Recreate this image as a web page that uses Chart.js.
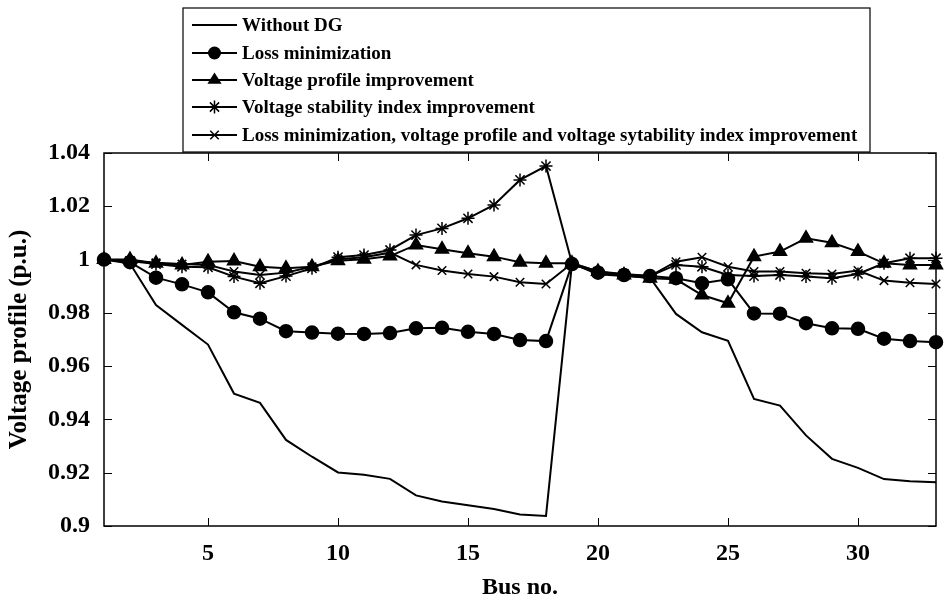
<!DOCTYPE html>
<html>
<head>
<meta charset="utf-8">
<script src="https://cdn.jsdelivr.net/npm/chart.js@4.4.1/dist/chart.umd.min.js"></script>
<style>
    html, body { margin: 0; padding: 0; background: #fff; }
    #wrap { width: 945px; height: 603px; }
</style>
</head>
<body>
<div id="wrap"><canvas id="voltage-chart" width="945" height="603"></canvas></div>
<script>
// --- Dados ---
const busNo = [1, 2, 3, 4, 5, 6, 7, 8, 9, 10, 11, 12, 13, 14, 15, 16, 17,
               18, 19, 20, 21, 22, 23, 24, 25, 26, 27, 28, 29, 30, 31, 32, 33];

const withoutDG = [1.0000, 0.9985, 0.9829, 0.9755, 0.9681, 0.9497, 0.9462, 0.9323, 0.9260, 0.9201, 0.9192,
                   0.9177, 0.9115, 0.9092, 0.9078, 0.9064, 0.9043, 0.9038, 0.9986, 0.9945, 0.9938, 0.9932,
                   0.9796, 0.9727, 0.9695, 0.9477, 0.9452, 0.9340, 0.9252, 0.9218, 0.9176, 0.9168, 0.9164];

const lossMin = [1.0000, 0.9990, 0.9932, 0.9907, 0.9877, 0.9802, 0.9778, 0.9731, 0.9726, 0.9722, 0.9721,
                 0.9724, 0.9742, 0.9744, 0.9729, 0.9721, 0.9698, 0.9694, 0.9983, 0.9951, 0.9942, 0.9938,
                 0.9930, 0.9911, 0.9926, 0.9798, 0.9797, 0.9761, 0.9742, 0.9740, 0.9703, 0.9694, 0.9690];

const voltProfile = [1.0000, 1.0000, 0.9986, 0.9980, 0.9992, 0.9995, 0.9973, 0.9967, 0.9973, 0.9996, 1.0001,
                     1.0013, 1.0055, 1.0039, 1.0024, 1.0011, 0.9990, 0.9986, 0.9986, 0.9955, 0.9942, 0.9930,
                     0.9926, 0.9867, 0.9836, 1.0011, 1.0030, 1.0080, 1.0063, 1.0030, 0.9986, 0.9980, 0.9980];

const vsiImprove = [1.0000, 0.9995, 0.9983, 0.9973, 0.9971, 0.9936, 0.9911, 0.9938, 0.9967, 1.0009, 1.0017,
                    1.0036, 1.0092, 1.0117, 1.0155, 1.0205, 1.0299, 1.0351, 0.9986, 0.9955, 0.9946, 0.9938,
                    0.9980, 0.9973, 0.9942, 0.9938, 0.9942, 0.9936, 0.9930, 0.9946, 0.9986, 1.0005, 1.0005];

const combined = [1.0000, 0.9995, 0.9988, 0.9983, 0.9980, 0.9955, 0.9942, 0.9951, 0.9973, 1.0001, 1.0009,
                  1.0026, 0.9980, 0.9959, 0.9946, 0.9936, 0.9915, 0.9908, 0.9986, 0.9948, 0.9942, 0.9938,
                  0.9992, 1.0009, 0.9973, 0.9955, 0.9955, 0.9949, 0.9946, 0.9959, 0.9921, 0.9913, 0.9908];

const seriesLabels = [
    'Without DG',
    'Loss minimization',
    'Voltage profile improvement',
    'Voltage stability index improvement',
    'Loss minimization, voltage profile and voltage sytability index improvement'
];
const xTickValues = [5, 10, 15, 20, 25, 30];
const yTickValues = [0.9, 0.92, 0.94, 0.96, 0.98, 1, 1.02, 1.04];

const FONT = "'Liberation Serif', 'Times New Roman', serif";

// --- Desenho de marcadores (legenda) ---
function drawMarker(ctx, style, x, y, r) {
    ctx.save();
    ctx.fillStyle = '#000';
    ctx.strokeStyle = '#000';
    ctx.lineWidth = 1.5;
    ctx.beginPath();
    if (style === 'circle') {
        ctx.arc(x, y, r, 0, Math.PI * 2);
        ctx.fill();
    } else if (style === 'triangle') {
        const h = r * 1.5;
        ctx.moveTo(x, y - r);
        ctx.lineTo(x + r * 0.95, y + h - r);
        ctx.lineTo(x - r * 0.95, y + h - r);
        ctx.closePath();
        ctx.fill();
    } else if (style === 'star') {
        const d = r * Math.SQRT1_2;
        ctx.moveTo(x - r, y); ctx.lineTo(x + r, y);
        ctx.moveTo(x, y - r); ctx.lineTo(x, y + r);
        ctx.moveTo(x - d, y - d); ctx.lineTo(x + d, y + d);
        ctx.moveTo(x - d, y + d); ctx.lineTo(x + d, y - d);
        ctx.stroke();
    } else if (style === 'crossRot') {
        const d = r * Math.SQRT1_2;
        ctx.moveTo(x - d, y - d); ctx.lineTo(x + d, y + d);
        ctx.moveTo(x - d, y + d); ctx.lineTo(x + d, y - d);
        ctx.stroke();
    }
    ctx.restore();
}

// --- Plugin: caixa dos eixos + ticks internos (estilo MATLAB) ---
const axesBoxPlugin = {
    id: 'axesBox',
    afterDatasetsDraw(chart) {
        const { ctx, chartArea: a, scales } = chart;
        const len = 8;
        ctx.save();
        ctx.strokeStyle = '#000';
        ctx.lineWidth = 1;
        ctx.beginPath();
        xTickValues.forEach(v => {
            const px = Math.round(scales.x.getPixelForValue(v)) + 0.5;
            ctx.moveTo(px, a.bottom); ctx.lineTo(px, a.bottom - len);
            ctx.moveTo(px, a.top); ctx.lineTo(px, a.top + len);
        });
        yTickValues.forEach(v => {
            const py = Math.round(scales.y.getPixelForValue(v)) + 0.5;
            ctx.moveTo(a.left, py); ctx.lineTo(a.left + len, py);
            ctx.moveTo(a.right, py); ctx.lineTo(a.right - len, py);
        });
        ctx.stroke();
        ctx.lineWidth = 1.5;
        ctx.strokeRect(a.left, a.top, a.right - a.left, a.bottom - a.top);
        ctx.restore();
    }
};

// --- Plugin: legenda em caixa, uma coluna ---
const boxLegendPlugin = {
    id: 'boxLegend',
    afterDraw(chart) {
        const ctx = chart.ctx;
        const box = { left: 183, top: 8, right: 870, bottom: 152 };
        const rowY = [25, 53, 80, 107, 135];
        ctx.save();
        ctx.fillStyle = '#fff';
        ctx.fillRect(box.left, box.top, box.right - box.left, box.bottom - box.top);
        ctx.strokeStyle = '#000';
        ctx.lineWidth = 1.2;
        ctx.strokeRect(box.left, box.top, box.right - box.left, box.bottom - box.top);

        chart.data.datasets.forEach((ds, i) => {
            const y = rowY[i];
            ctx.beginPath();
            ctx.lineWidth = 2;
            ctx.moveTo(192, y);
            ctx.lineTo(237, y);
            ctx.stroke();
            if (ds.pointRadius > 0) drawMarker(ctx, ds.pointStyle, 214.5, y, ds.pointRadius);
            ctx.fillStyle = '#000';
            ctx.font = `bold 19px ${FONT}`;
            ctx.textBaseline = 'middle';
            ctx.textAlign = 'left';
            ctx.fillText(ds.label, 242, y + 1);
        });
        ctx.restore();
    }
};

function makeSeries(values) {
    return values.map((v, i) => ({ x: busNo[i], y: v }));
}

const seriesValues = [withoutDG, lossMin, voltProfile, vsiImprove, combined];
const seriesStyles = [
    { pointStyle: 'circle', pointRadius: 0 },
    { pointStyle: 'circle', pointRadius: 6.5 },
    { pointStyle: 'triangle', pointRadius: 7.5 },
    { pointStyle: 'star', pointRadius: 6.5 },
    { pointStyle: 'crossRot', pointRadius: 6 }
];

const datasets = seriesValues.map((vals, i) => ({
    label: seriesLabels[i],
    data: makeSeries(vals),
    borderColor: '#000',
    backgroundColor: '#000',
    borderWidth: 2,
    pointBackgroundColor: '#000',
    pointBorderColor: '#000',
    pointBorderWidth: 1.5,
    pointStyle: seriesStyles[i].pointStyle,
    pointRadius: seriesStyles[i].pointRadius,
    tension: 0,
    clip: false
}));

const chartConfig = {
    type: 'line',
    data: { datasets: datasets },
    options: {
        responsive: false,
        devicePixelRatio: 1,
        animation: false,
        layout: { padding: { top: 153, right: 2, left: 0, bottom: 0 } },
        plugins: {
            legend: { display: false },
            tooltip: { enabled: false }
        },
        scales: {
            x: {
                type: 'linear',
                min: 1,
                max: 33,
                grid: { display: false },
                border: { display: false },
                afterBuildTicks: (scale) => {
                    scale.ticks = xTickValues.map(v => ({ value: v }));
                },
                afterFit: (scale) => { scale.height = 77; },
                ticks: {
                    color: '#000',
                    padding: 5,
                    maxRotation: 0,
                    font: { family: FONT, size: 24, weight: 'bold' }
                },
                title: {
                    display: true,
                    text: 'Bus no.',
                    color: '#000',
                    padding: { top: 0, bottom: 1 },
                    font: { family: FONT, size: 24, weight: 'bold' }
                }
            },
            y: {
                min: 0.9,
                max: 1.04,
                grid: { display: false },
                border: { display: false },
                afterBuildTicks: (scale) => {
                    scale.ticks = yTickValues.map(v => ({ value: v }));
                },
                afterFit: (scale) => { scale.width = 104; },
                ticks: {
                    color: '#000',
                    padding: 6,
                    font: { family: FONT, size: 24, weight: 'bold' },
                    callback: (v) => String(Number(v.toFixed(2)))
                },
                title: {
                    display: true,
                    text: 'Voltage profile (p.u.)',
                    color: '#000',
                    padding: { top: 5, bottom: 0 },
                    font: { family: FONT, size: 25, weight: 'bold' }
                }
            }
        }
    },
    plugins: [axesBoxPlugin, boxLegendPlugin]
};

new Chart(document.getElementById('voltage-chart').getContext('2d'), chartConfig);
</script>
</body>
</html>
